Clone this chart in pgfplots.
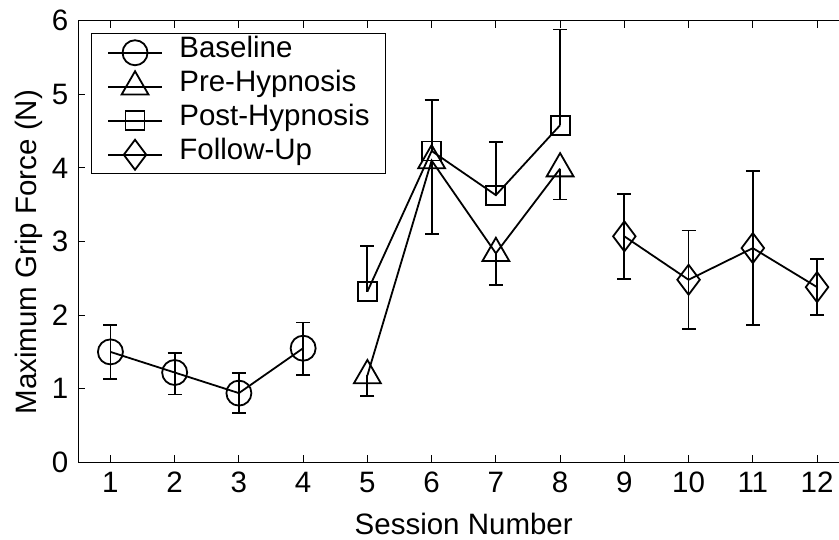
\documentclass[border=0pt]{standalone}
\usepackage{fontspec}
\setmainfont{Liberation Sans}
\usepackage{pgfplots}
\pgfplotsset{compat=1.18}
\usepackage{pgfplotstable}

% session, mean, error up, error down
\pgfplotstableread{
x y ep em
1 1.50 0.37 0.37
2 1.22 0.27 0.30
3 0.94 0.27 0.27
4 1.55 0.35 0.36
}\tblbase
\pgfplotstableread{
x y ep em
5 1.18 0 0.28
6 4.10 0 1.00
7 2.84 0 0.43
8 3.99 0 0.42
}\tblpre
\pgfplotstableread{
x y ep em
5 2.32 0.62 0
6 4.23 0.69 0
7 3.63 0.72 0
8 4.58 1.30 0
}\tblpost
\pgfplotstableread{
x y ep em
9  3.07 0.57 0.58
10 2.48 0.67 0.67
11 2.91 1.05 1.05
12 2.38 0.38 0.38
}\tblfollow

\begin{document}
\fontsize{29.5}{35}\selectfont
\begin{tikzpicture}
\begin{axis}[
  name=ax, at={(0,0)}, anchor=south west,
  scale only axis, width=770.9pt, height=441.6pt,
  xmin=0.5, xmax=12.5, ymin=0, ymax=6,
  xtick={1,...,12}, ytick={0,...,6},
  ytick pos=left,
  tick align=inside,
  major tick length=7pt,
  axis line style={line width=0.9pt},
  every tick/.style={black, line width=0.9pt},
  /pgf/number format/assume math mode=true,
  xlabel={Session Number},
  ylabel={Maximum Grip Force (N)},
  ylabel style={at={(axis description cs:-0.064,0.476)}, anchor=center},
  legend style={at={(0,1)}, anchor=north west, xshift=12.7pt, yshift=-12.6pt,
    font=\fontsize{29.5}{35}\selectfont,
    draw=black, line width=0.9pt, row sep=0pt,
    inner xsep=16pt, inner ysep=2pt,
    nodes={inner xsep=0pt, inner ysep=0pt, text height=22pt, text depth=12pt}},
  legend cell align=left,
  legend image code/.code={
    \path[draw=none] (0pt,0pt) -- (71pt,0pt);
    \draw[mark repeat=2,mark phase=2] plot coordinates {(0pt,0pt) (26.7pt,0pt) (53.3pt,0pt)};},
  every axis plot/.append style={black, line width=1.8pt},
  error bars/error bar style={line width=1.8pt},
  error bars/error mark options={rotate=90, mark size=7pt, line width=1.8pt},
]
\addplot[mark=o, mark size=12.5pt, error bars/.cd, y dir=both, y explicit]
  table[x=x, y=y, y error plus=ep, y error minus=em]{\tblbase};
\addplot[mark=triangle, mark size=15.5pt, error bars/.cd, y dir=minus, y explicit]
  table[x=x, y=y, y error plus=ep, y error minus=em]{\tblpre};
\addplot[mark=square, mark size=9.5pt, error bars/.cd, y dir=plus, y explicit]
  table[x=x, y=y, y error plus=ep, y error minus=em]{\tblpost};
\addplot[mark=diamond, mark size=15pt, error bars/.cd, y dir=both, y explicit]
  table[x=x, y=y, y error plus=ep, y error minus=em]{\tblfollow};
\legend{Baseline, Pre-Hypnosis, Post-Hypnosis, Follow-Up}
\end{axis}
\pgfresetboundingbox
\path[use as bounding box] (-78.3pt,-77.7pt) rectangle (760.7pt,462.3pt);
\end{tikzpicture}
\end{document}
